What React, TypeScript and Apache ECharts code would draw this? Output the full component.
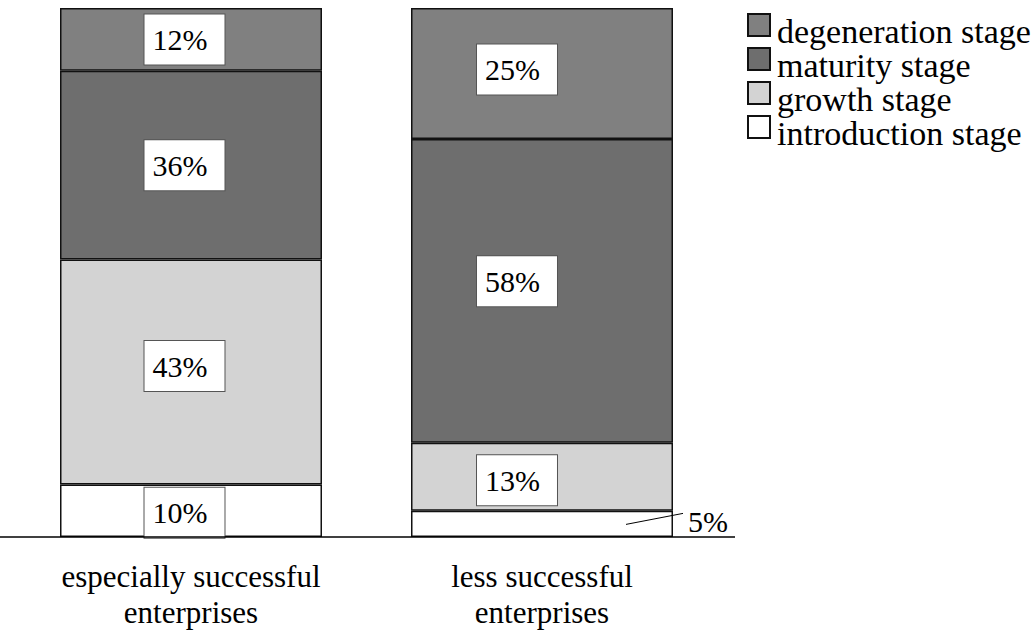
import React, { useEffect, useRef } from "react";
import * as echarts from "echarts";

const categories = ["especially successful\nenterprises", "less successful\nenterprises"];
const seriesNames = ["introduction stage", "growth stage", "maturity stage", "degeneration stage"];
const introduction = [10, 5];
const growth = [43, 13];
const maturity = [36, 58];
const degeneration = [12, 25];
const colors = ["#ffffff", "#d3d3d3", "#6e6e6e", "#808080"];
const legendOrder = ["degeneration stage", "maturity stage", "growth stage", "introduction stage"];
// label box nudges [dx, dy] per series (bottom to top) per bar
const labelNudge = [
  [[-6.5, 2], [0, 0]],
  [[-6.5, -6], [-25, 3.5]],
  [[-6.5, 0], [-25, -9.5]],
  [[-6.5, 0], [-25, -4]],
];

const FONT = "Liberation Serif";
// square drawn in the upper part of a taller icon box, so the text sits lower than the square
const LEGEND_ICON = "path://M0,0H22V22H0Z M0,34L0,34";

export default function App() {
  const ref = useRef<HTMLDivElement>(null);
  useEffect(() => {
    if (!ref.current) return;
    const chart = echarts.init(ref.current, undefined, { renderer: "svg" });
    const values = [introduction, growth, maturity, degeneration];
    const boxLabel = {
      show: true,
      position: "inside",
      formatter: "{c}%",
      fontFamily: FONT,
      fontSize: 30,
      lineHeight: 30,
      color: "#000",
      backgroundColor: "#fff",
      borderColor: "#555",
      borderWidth: 1,
      padding: [10, 17, 10, 8],
    };
    const series = seriesNames.map((name, si) => ({
      name,
      type: "bar",
      stack: "total",
      barWidth: 262,
      itemStyle: { color: colors[si], borderColor: "#111", borderWidth: 1.5 },
      label: boxLabel,
      data: values[si].map((v, i) => {
        if (si === 0 && i === 1) {
          return {
            value: v,
            label: {
              show: true,
              formatter: "{c}%",
              position: [277, 11],
              align: "left",
              verticalAlign: "middle",
              fontFamily: FONT,
              fontSize: 30,
              color: "#000",
              backgroundColor: "transparent",
              borderWidth: 0,
              padding: 0,
            },
          };
        }
        return { value: v, label: { offset: labelNudge[si][i] } };
      }),
    }));
    chart.setOption({
      animation: false,
      grid: { left: 15.5, right: 1035 - 717.5, top: 8, bottom: 93, containLabel: false, outerBoundsMode: "none" },
      legend: {
        data: legendOrder,
        orient: "vertical",
        left: 742,
        top: 8,
        itemWidth: 22,
        itemHeight: 34,
        itemGap: -2,
        icon: LEGEND_ICON,
        textStyle: { fontFamily: FONT, fontSize: 34, color: "#000", lineHeight: 22, padding: [0, 0, 0, 2] },
      },
      xAxis: {
        type: "category",
        data: categories,
        axisLine: { show: false },
        axisTick: { show: false },
        axisLabel: { fontFamily: FONT, fontSize: 31, lineHeight: 36, color: "#000", margin: 21 },
      },
      yAxis: { type: "value", min: 0, max: 101, show: false, splitLine: { show: false } },
      series,
    });
    const base = chart.convertToPixel({ gridIndex: 0 }, [0, 0]) as number[];
    const p = chart.convertToPixel({ gridIndex: 0 }, [1, introduction[1] / 2]) as number[];
    chart.setOption({
      graphic: [
        {
          type: "line",
          shape: { x1: 0, y1: base[1], x2: 735, y2: base[1] },
          style: { stroke: "#000", lineWidth: 1.5 },
          z: 10,
        },
        {
          type: "line",
          shape: { x1: p[0] + 84, y1: p[1] + 0.5, x2: p[0] + 141, y2: p[1] - 10.5 },
          style: { stroke: "#000", lineWidth: 1 },
          z: 10,
        },
      ],
    });
    return () => chart.dispose();
  }, []);
  return <div ref={ref} style={{ position: "absolute", left: 0, top: 0, width: 1035, height: 630 }} />;
}
